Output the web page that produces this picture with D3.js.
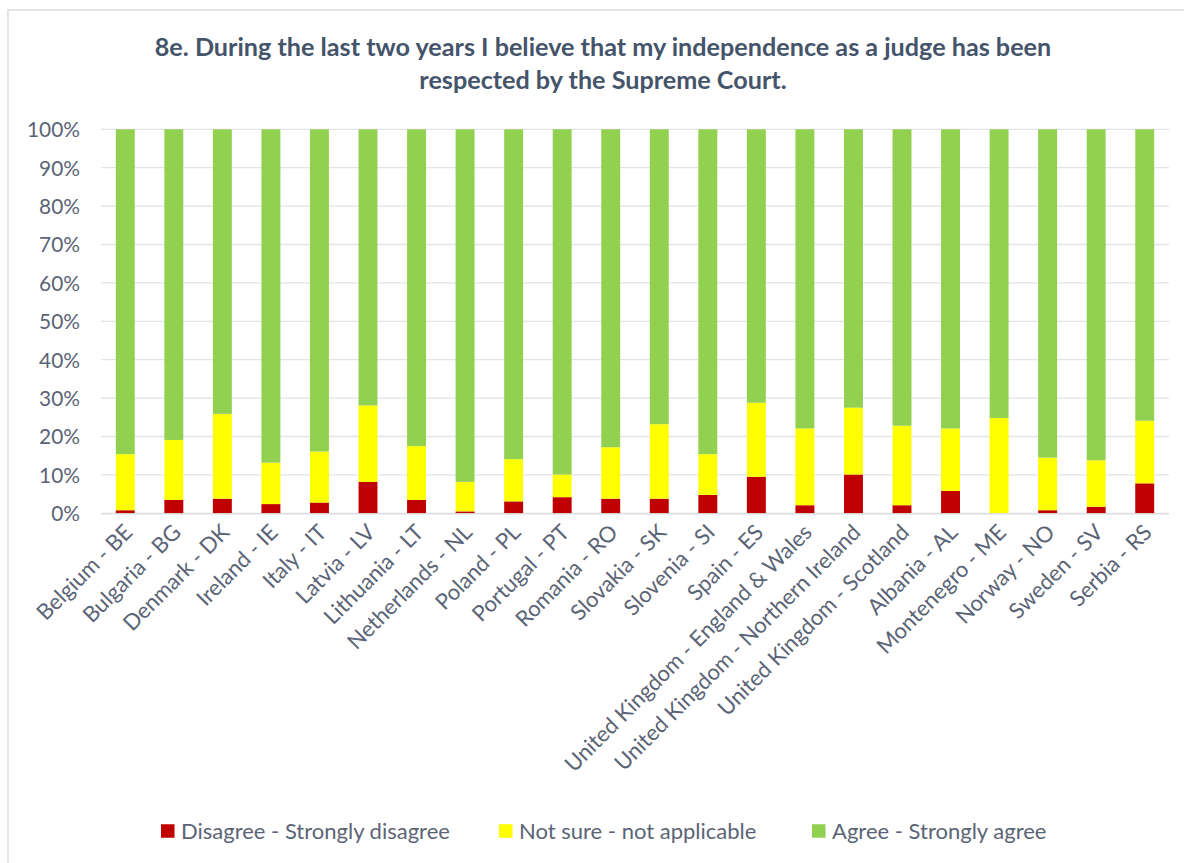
<!DOCTYPE html>
<html>
<head>
<meta charset="utf-8">
<script src="https://cdn.jsdelivr.net/npm/d3@7"></script>
<style>
  html, body { margin: 0; padding: 0; background: #fff; }
  svg { display: block; }
</style>
</head>
<body>
<svg id="chart" width="1184" height="863"></svg>
<script>
// ---- data ----
const categories = [
  "Belgium - BE", "Bulgaria - BG", "Denmark - DK", "Ireland - IE", "Italy - IT",
  "Latvia - LV", "Lithuania - LT", "Netherlands - NL", "Poland - PL", "Portugal - PT",
  "Romania - RO", "Slovakia - SK", "Slovenia - SI", "Spain - ES",
  "United Kingdom - England & Wales", "United Kingdom - Northern Ireland",
  "United Kingdom - Scotland", "Albania - AL", "Montenegro - ME", "Norway - NO",
  "Sweden - SV", "Serbia - RS"
];
const disagree = [0.8, 3.5, 3.8, 2.4, 2.8, 8.2, 3.5, 0.5, 3.1, 4.2, 3.8, 3.8, 4.8, 9.5, 2.1, 10.1, 2.1, 5.8, 0.0, 0.8, 1.7, 7.8];
const notSure  = [14.6, 15.6, 22.1, 10.8, 13.3, 19.9, 14.0, 7.7, 11.0, 5.9, 13.4, 19.4, 10.6, 19.3, 20.0, 17.4, 20.7, 16.3, 24.8, 13.7, 12.1, 16.3];
const agree    = [84.6, 80.9, 74.1, 86.8, 83.9, 71.9, 82.5, 91.8, 85.9, 89.9, 82.8, 76.8, 84.6, 71.2, 77.9, 72.5, 77.2, 77.9, 75.2, 85.5, 86.2, 75.9];
const seriesNames = ["Disagree - Strongly disagree", "Not sure - not applicable", "Agree - Strongly agree"];
const seriesColors = ["#C00000", "#FFFF00", "#92D050"];
const yTicks = [0, 10, 20, 30, 40, 50, 60, 70, 80, 90, 100];
const titleLines = [
  "8e. During the last two years I believe that my independence as a judge has been",
  "respected by the Supreme Court."
];

// ---- layout ----
const FONT = "Lato, 'Open Sans', sans-serif";
const svg = d3.select("#chart");
const plot = { left: 101, right: 1169, top: 129.3, bottom: 513.3 };
const textColor = "#5A6476";
const titleColor = "#44546A";

// font fitting helper
function fitSize(text, target, weight) {
  const t = svg.append("text").attr("font-family", FONT).attr("font-size", 100)
    .attr("font-weight", weight || "normal").text(text);
  const w = t.node().getComputedTextLength();
  t.remove();
  return 100 * target / w;
}
const labelSize = fitSize("100%", 53);
const catSize = fitSize("United Kingdom - Northern Ireland", 337);
const legendSize = fitSize(seriesNames[0], 269);
const titleSize = fitSize(titleLines[0], 897, "bold");

// chart border
svg.append("rect").attr("x", 8).attr("y", 10).attr("width", 1200).attr("height", 900)
  .attr("fill", "none").attr("stroke", "#D9DCE1").attr("stroke-width", 1.5);

// title
svg.append("text")
  .attr("x", 603).attr("text-anchor", "middle")
  .attr("font-family", FONT).attr("font-weight", "bold").attr("font-size", titleSize)
  .attr("fill", titleColor)
  .selectAll("tspan").data(titleLines).join("tspan")
  .attr("x", 603).attr("y", (d, i) => 56 + i * 33).text(d => d);

// scales
const x = d3.scaleBand().domain(categories).range([plot.left, plot.right])
  .paddingInner(0.61).paddingOuter(0.305);
const y = d3.scaleLinear().domain([0, 100]).range([plot.bottom, plot.top]);

// gridlines
svg.append("g").selectAll("line").data(yTicks).join("line")
  .attr("x1", plot.left).attr("x2", plot.right)
  .attr("y1", d => y(d)).attr("y2", d => y(d))
  .attr("stroke", "#E1E4E9").attr("stroke-width", 1.3);

// y axis
const yAxis = d3.axisLeft(y).tickValues(yTicks).tickFormat(d => d + "%").tickSize(0).tickPadding(0);
const gy = svg.append("g").attr("transform", "translate(80,0)").call(yAxis);
gy.select(".domain").remove();
gy.selectAll("text").attr("font-family", FONT).attr("font-size", labelSize)
  .attr("fill", textColor).attr("dy", "0.35em").attr("x", 0);

// stacked bars
const table = categories.map((c, i) => ({ cat: c, d: disagree[i], n: notSure[i], a: agree[i] }));
const stack = d3.stack().keys(["d", "n", "a"])(table);
svg.append("g").selectAll("g").data(stack).join("g")
  .attr("fill", (s, i) => seriesColors[i])
  .selectAll("rect").data(s => s).join("rect")
  .attr("x", d => x(d.data.cat))
  .attr("width", x.bandwidth())
  .attr("y", d => y(d[1]))
  .attr("height", d => Math.max(0, y(d[0]) - y(d[1])));

// x axis
const xAxis = d3.axisBottom(x).tickSize(0).tickPadding(0);
const gx = svg.append("g").attr("transform", `translate(0,${plot.bottom})`).call(xAxis);
gx.select(".domain").attr("stroke", "#D9DCE1").attr("stroke-width", 1.3);
gx.selectAll("text")
  .attr("font-family", FONT).attr("font-size", catSize).attr("fill", textColor)
  .attr("text-anchor", "end").attr("dy", "0.35em")
  .attr("transform", "translate(3,15) rotate(-45)");

// legend
const legendX = [161, 499, 812];
const lg = svg.append("g").selectAll("g").data(seriesNames).join("g")
  .attr("transform", (d, i) => `translate(${legendX[i]},831)`);
lg.append("rect").attr("x", 0).attr("y", -6.75).attr("width", 13.5).attr("height", 13.5)
  .attr("fill", (d, i) => seriesColors[i]);
lg.append("text").attr("x", 20).attr("dy", "0.35em")
  .attr("font-family", FONT).attr("font-size", legendSize).attr("fill", textColor)
  .text(d => d);
</script>
</body>
</html>
